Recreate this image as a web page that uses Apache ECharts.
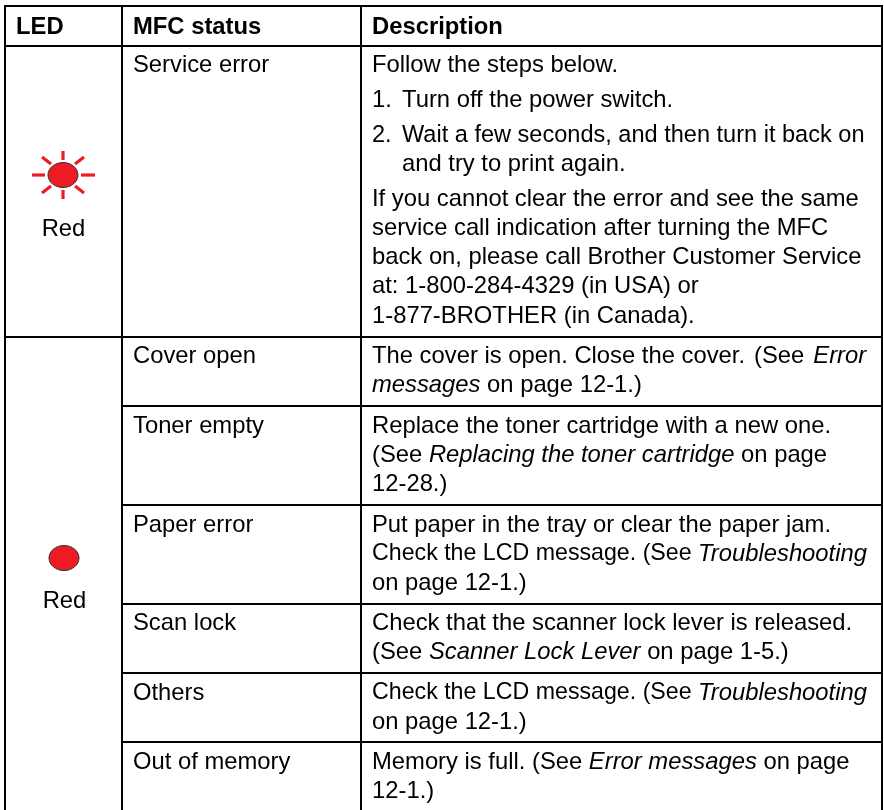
<!DOCTYPE html>
<html>
<head>
<meta charset="utf-8">
<style>
  html, body { margin: 0; padding: 0; background: #fff; }
  #chart { width: 884px; height: 810px; }
</style>
<script src="https://cdn.jsdelivr.net/npm/echarts@6/dist/echarts.min.js"></script>
</head>
<body>
<div id="chart"></div>
<script>
// table content
var columnHeaders = ["LED", "MFC status", "Description"];
var ledNames = ["Red", "Red"];
var statusLabels = ["Service error", "Cover open", "Toner empty", "Paper error", "Scan lock", "Others", "Out of memory"];
var listMarkers = ["1.", "{k|2.}"];
var descriptionLines = [
  ["Follow the steps below.", "Turn off the power switch.", "{k|Wait a few seconds, and then turn it back on}", "and try to print again.",
   "If you cannot clear the error and see the same", "service call indication after turning the MFC", "back on, please call Brother Customer Service", "at: 1-800-284-4329 (in USA) or", "1-877-BROTHER (in Canada)."],
  ["The cover is open. Close the cover.{w| }(See{w| }{i|Error}", "{i|messages} on page 12-1.)"],
  ["Replace the toner cartridge with a new one.", "(See {i|Replacing the toner cartridge} on page", "12-28.)"],
  ["Put paper in the tray or clear the paper jam.", "{t|Check the LCD message. (See }{i|Troubleshooting}", "on page 12-1.)"],
  ["Check that the scanner lock lever is released.", "(See {i|Scanner Lock Lever} on page 1-5.)"],
  ["{t|Check the LCD message. (See }{i|Troubleshooting}", "on page 12-1.)"],
  ["Memory is full. (See {i|Error messages} on page", "12-1.)"]
];

// layout of the page, in pixels
var colEdges = [5, 122, 361, 882];
var headerTop = 6;
var rowEdges = [46, 337, 406, 505, 604, 673, 742];
var pageBottom = 810;
var fullWidthRows = [1];
var textX = [16, 133, 372];
var headerY = 27;
var lineGap = 29;
var rowFirstLineY = [65, 356, 426, 525, 623, 693, 762];
var firstRowLineY = [65, 100, 136, 164, 199, 228, 257, 286.5, 316];
var listIndent = 30;
var listLines = [1, 2, 3];
var listMarkerLines = [1, 2];
var ledCenters = [[63, 175], [64, 558]];
var ledNameY = [229, 601];
var fontSize = 23.8;
var fontFamily = "'Liberation Sans', Arial, sans-serif";

var chart = echarts.init(document.getElementById("chart"), null, { renderer: "canvas" });

function textItem(api, x, y, text, opts) {
  var p = api.coord([x, y]);
  var o = opts || {};
  return {
    type: "text",
    x: p[0],
    y: p[1],
    style: {
      text: text,
      fill: "#000",
      align: o.align || "left",
      verticalAlign: "middle",
      font: (o.bold ? "bold " : "") + fontSize + "px " + fontFamily,
      rich: {
        i: { fontStyle: "italic", fontSize: fontSize, fontFamily: fontFamily, fill: "#000" },
        k: { fontSize: 23.55, fontFamily: fontFamily, fill: "#000" },
        t: { fontSize: 23.2, fontFamily: fontFamily, fill: "#000" },
        w: { width: 9, fontSize: fontSize, fontFamily: fontFamily, fill: "#000" }
      }
    }
  };
}

function segment(api, x1, y1, x2, y2, width, color) {
  var a = api.coord([x1, y1]);
  var b = api.coord([x2, y2]);
  return {
    type: "line",
    shape: { x1: a[0], y1: a[1], x2: b[0], y2: b[1] },
    style: { stroke: color || "#000", lineWidth: width, lineCap: "butt" }
  };
}

function renderLines(params, api) {
  var children = [];
  var right = colEdges[3];
  colEdges.forEach(function (x) {
    children.push(segment(api, x, headerTop - 1, x, pageBottom, 2));
  });
  children.push(segment(api, colEdges[0], headerTop, right, headerTop, 2));
  children.push(segment(api, colEdges[0], rowEdges[0], right, rowEdges[0], 2));
  rowEdges.slice(1).forEach(function (y, i) {
    var full = fullWidthRows.indexOf(i + 1) >= 0;
    children.push(segment(api, full ? colEdges[0] : colEdges[1], y, right, y, 2));
  });
  return { type: "group", children: children };
}

function renderTexts(params, api) {
  var children = [];
  columnHeaders.forEach(function (h, i) {
    children.push(textItem(api, textX[i], headerY, h, { bold: true }));
  });
  statusLabels.forEach(function (s, i) {
    children.push(textItem(api, textX[1], rowFirstLineY[i], s));
  });
  listMarkers.forEach(function (m, i) {
    children.push(textItem(api, textX[2], firstRowLineY[listMarkerLines[i]], m));
  });
  descriptionLines.forEach(function (lines, i) {
    lines.forEach(function (line, j) {
      var y = i === 0 ? firstRowLineY[j] : rowFirstLineY[i] + j * lineGap;
      var x = textX[2] + (i === 0 && listLines.indexOf(j) >= 0 ? listIndent : 0);
      children.push(textItem(api, x, y, line));
    });
  });
  ledNames.forEach(function (n, i) {
    children.push(textItem(api, ledCenters[i][0] + 0.5, ledNameY[i], n, { align: "center" }));
  });
  return { type: "group", children: children };
}

function renderLeds(params, api) {
  var children = [];
  var red = "#ed1c24";
  // rays only on the blinking one
  var c = ledCenters[0];
  [[-31, 0, -18, 0], [18, 0, 32, 0], [0, -24, 0, -15], [0, 15, 0, 24],
   [-21, -18, -12, -11], [12, -11, 21, -18], [-21, 18, -12, 11], [12, 11, 21, 18]].forEach(function (r) {
    children.push(segment(api, c[0] + r[0], c[1] + r[1], c[0] + r[2], c[1] + r[3], 3.2, red));
  });
  ledCenters.forEach(function (p) {
    var o = api.coord(p);
    children.push({
      type: "ellipse",
      shape: { cx: o[0], cy: o[1], rx: 15, ry: 12.5 },
      style: { fill: red, stroke: "#333", lineWidth: 1 }
    });
  });
  return { type: "group", children: children };
}

chart.setOption({
  animation: false,
  grid: { left: 0, right: 0, top: 0, bottom: 0 },
  xAxis: { type: "value", min: 0, max: 884, show: false },
  yAxis: { type: "value", min: 0, max: 810, inverse: true, show: false },
  series: [
    { type: "custom", data: [[0, 0]], renderItem: renderLines, silent: true },
    { type: "custom", data: [[0, 0]], renderItem: renderLeds, silent: true },
    { type: "custom", data: [[0, 0]], renderItem: renderTexts, silent: true }
  ]
});
</script>
</body>
</html>
